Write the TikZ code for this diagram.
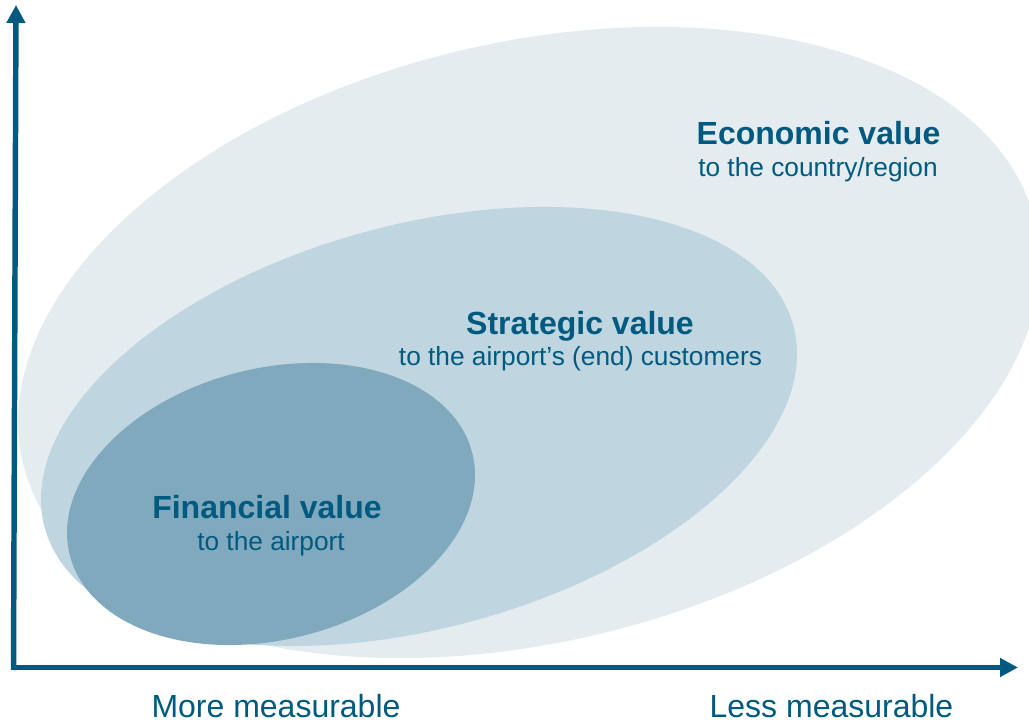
\documentclass[tikz,border=0pt]{standalone}
\usepackage{fontspec}
\setmainfont{Liberation Sans}
\usetikzlibrary{arrows.meta}
\definecolor{ink}{HTML}{005A80}
\definecolor{econfill}{HTML}{E4ECF0}
\definecolor{stratfill}{HTML}{BFD5E0}
\definecolor{finfill}{HTML}{80A9BE}
\begin{document}
\begin{tikzpicture}[x=0.75pt,y=-0.75pt,
  title/.style={font=\fontsize{24}{28}\selectfont\bfseries, text=ink, anchor=base, inner sep=0pt},
  subtitle/.style={font=\fontsize{19.7}{24}\selectfont, text=ink, anchor=base, inner sep=0pt},
  axislabel/.style={font=\fontsize{24}{28}\selectfont, text=ink, anchor=base, inner sep=0pt, text depth=0pt},
  axis/.style={draw=ink, line width=4.1pt, -{Triangle[length=13.5pt,width=13.5pt]}}]
\useasboundingbox (0,0) rectangle (1029,723);

% nested value ellipses
\begin{scope}
  \clip (0,0) rectangle (1029,723);
  \fill[econfill, rotate around={13.35:(529,342.5)}]
    (529,342.5) ellipse [x radius=390.2pt, y radius=224.9pt];
  \fill[stratfill, rotate around={15.1:(419,426.5)}]
    (419,426.5) ellipse [x radius=290.8pt, y radius=151.4pt];
  \fill[finfill, rotate around={14.25:(271,504)}]
    (271,504) ellipse [x radius=155.7pt, y radius=101.7pt];
\end{scope}

% axes
\coordinate (ybase) at (13.5,670);
\coordinate (ytip) at (16,5);
\coordinate (xbase) at (11,667.5);
\coordinate (xtip) at (1018,667.5);
\draw[axis] (ybase) -- (ytip);
\draw[axis] (xbase) -- (xtip);

% labels
\node[title] (econ) at (818.5,145) {Economic value};
\node[subtitle] (econsub) at (818,177) {to the country/region};
\node[title] (strat) at (580,335) {Strategic value};
\node[subtitle] (stratsub) at (580.5,366) {to the airport’s (end) customers};
\node[title] (fin) at (267,519) {Financial value};
\node[subtitle] (finsub) at (271,551) {to the airport};
\node[axislabel] (more) at (276,717.5) {More measurable};
\node[axislabel] (less) at (831.5,717.5) {Less measurable};
\end{tikzpicture}
\end{document}
